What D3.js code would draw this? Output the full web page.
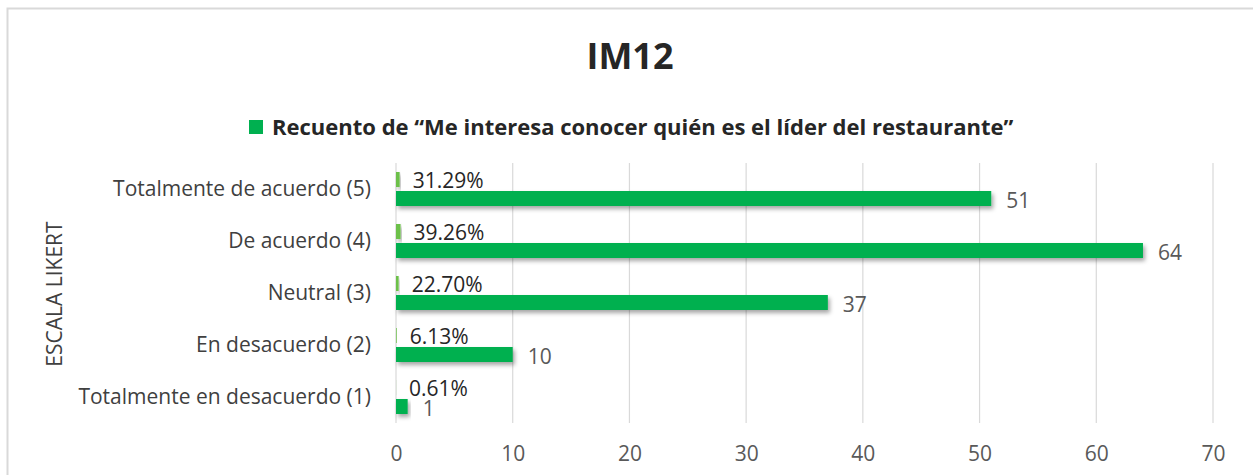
<!DOCTYPE html>
<html>
<head>
<meta charset="utf-8">
<script src="https://cdn.jsdelivr.net/npm/d3@7"></script>
<style>
  body { margin: 0; background: #fff; }
  svg { display: block; font-family: "Open Sans", Lato, sans-serif; }
</style>
</head>
<body>
<div class="chart"></div>
<script>
var categories = ["Totalmente de acuerdo (5)", "De acuerdo (4)", "Neutral (3)", "En desacuerdo (2)", "Totalmente en desacuerdo (1)"];
var counts = [51, 64, 37, 10, 1];
var percents = [31.29, 39.26, 22.70, 6.13, 0.61];
var xTicks = [0, 10, 20, 30, 40, 50, 60, 70];

var width = 1253,
	height = 475;

var svg = d3.select(".chart").append("svg")
	.attr("width", width)
	.attr("height", height);

var defs = svg.append("defs");
var shadow = defs.append("filter").attr("id", "shadow")
	.attr("x", "-10%").attr("y", "-50%").attr("width", "130%").attr("height", "250%");
shadow.append("feDropShadow")
	.attr("dx", 2).attr("dy", 3).attr("stdDeviation", 2)
	.attr("flood-color", "#000").attr("flood-opacity", 0.35);

// outer chart border
svg.append("rect")
	.attr("x", 7.5).attr("y", 8.5)
	.attr("width", 1260).attr("height", 480)
	.attr("fill", "#fff")
	.attr("stroke", "#d9d9d9")
	.attr("stroke-width", 2);

var x = d3.scaleLinear().domain([0, 70]).range([396, 1213]);
var y = d3.scaleBand().domain(categories).range([163, 423]);
var inner = d3.scaleBand().domain(["pct", "count"]).range([9, 43]).paddingInner(0.21);

// gridlines
svg.append("g").selectAll("line")
	.data(xTicks)
	.enter().append("line")
	.attr("x1", function(d) { return x(d); })
	.attr("x2", function(d) { return x(d); })
	.attr("y1", 163).attr("y2", 423)
	.attr("stroke", "#d9d9d9")
	.attr("stroke-width", 1.2);

// x axis labels
var xAxis = svg.append("g")
	.attr("transform", "translate(0,423)")
	.call(d3.axisBottom(x).tickValues(xTicks).tickSize(0).tickPadding(23));
xAxis.select(".domain").remove();
xAxis.selectAll("text")
	.attr("fill", "#595959")
	.style("font-size", "21px")
	.style("font-family", "'Open Sans', sans-serif");

// category labels
var yAxis = svg.append("g")
	.attr("transform", "translate(396,0)")
	.call(d3.axisLeft(y).tickSize(0).tickPadding(25));
yAxis.select(".domain").remove();
yAxis.selectAll("text")
	.attr("fill", "#404040")
	.style("font-size", "21px")
	.style("font-family", "'Open Sans', sans-serif");

var rows = categories.map(function(c, i) {
	return { cat: c, count: counts[i], pct: percents[i] };
});

var bars = svg.append("g");

bars.selectAll(".pct")
	.data(rows)
	.enter().append("rect")
	.attr("class", "pct")
	.attr("x", x(0))
	.attr("y", function(d) { return y(d.cat) + inner("pct"); })
	.attr("width", function(d) { return x(d.pct / 100) - x(0); })
	.attr("height", inner.bandwidth())
	.attr("fill", "#6cc04a")
	.attr("filter", "url(#shadow)");

bars.selectAll(".count")
	.data(rows)
	.enter().append("rect")
	.attr("class", "count")
	.attr("x", x(0))
	.attr("y", function(d) { return y(d.cat) + inner("count"); })
	.attr("width", function(d) { return x(d.count) - x(0); })
	.attr("height", inner.bandwidth())
	.attr("fill", "#00b050")
	.attr("filter", "url(#shadow)");

// data labels
svg.append("g").selectAll("text")
	.data(rows)
	.enter().append("text")
	.attr("x", function(d) { return x(d.pct / 100) + 13; })
	.attr("y", function(d) { return y(d.cat) + inner("pct") + inner.bandwidth() / 2 + 1; })
	.attr("dy", "0.35em")
	.attr("fill", "#262626")
	.style("font-size", "21px")
	.text(function(d) { return d.pct.toFixed(2) + "%"; });

svg.append("g").selectAll("text")
	.data(rows)
	.enter().append("text")
	.attr("x", function(d) { return x(d.count) + 15; })
	.attr("y", function(d) { return y(d.cat) + inner("count") + inner.bandwidth() / 2 + 2; })
	.attr("dy", "0.35em")
	.attr("fill", "#595959")
	.style("font-size", "21px")
	.text(function(d) { return d.count; });

// title
svg.append("text")
	.attr("x", 630).attr("y", 69)
	.attr("text-anchor", "middle")
	.attr("fill", "#262626")
	.style("font-size", "36px")
	.style("font-weight", "bold")
	.text("IM12");

// legend
svg.append("rect")
	.attr("x", 249).attr("y", 120)
	.attr("width", 14).attr("height", 14)
	.attr("fill", "#00b050");
svg.append("text")
	.attr("x", 272).attr("y", 135)
	.attr("fill", "#262626")
	.style("font-size", "22px")
	.style("font-weight", "bold")
	.text("Recuento de “Me interesa conocer quién es el líder del restaurante”");

// y axis title
svg.append("text")
	.attr("transform", "translate(62,294) rotate(-90)")
	.attr("text-anchor", "middle")
	.attr("fill", "#404040")
	.style("font-size", "21px")
	.text("ESCALA LIKERT");
</script>
</body>
</html>
